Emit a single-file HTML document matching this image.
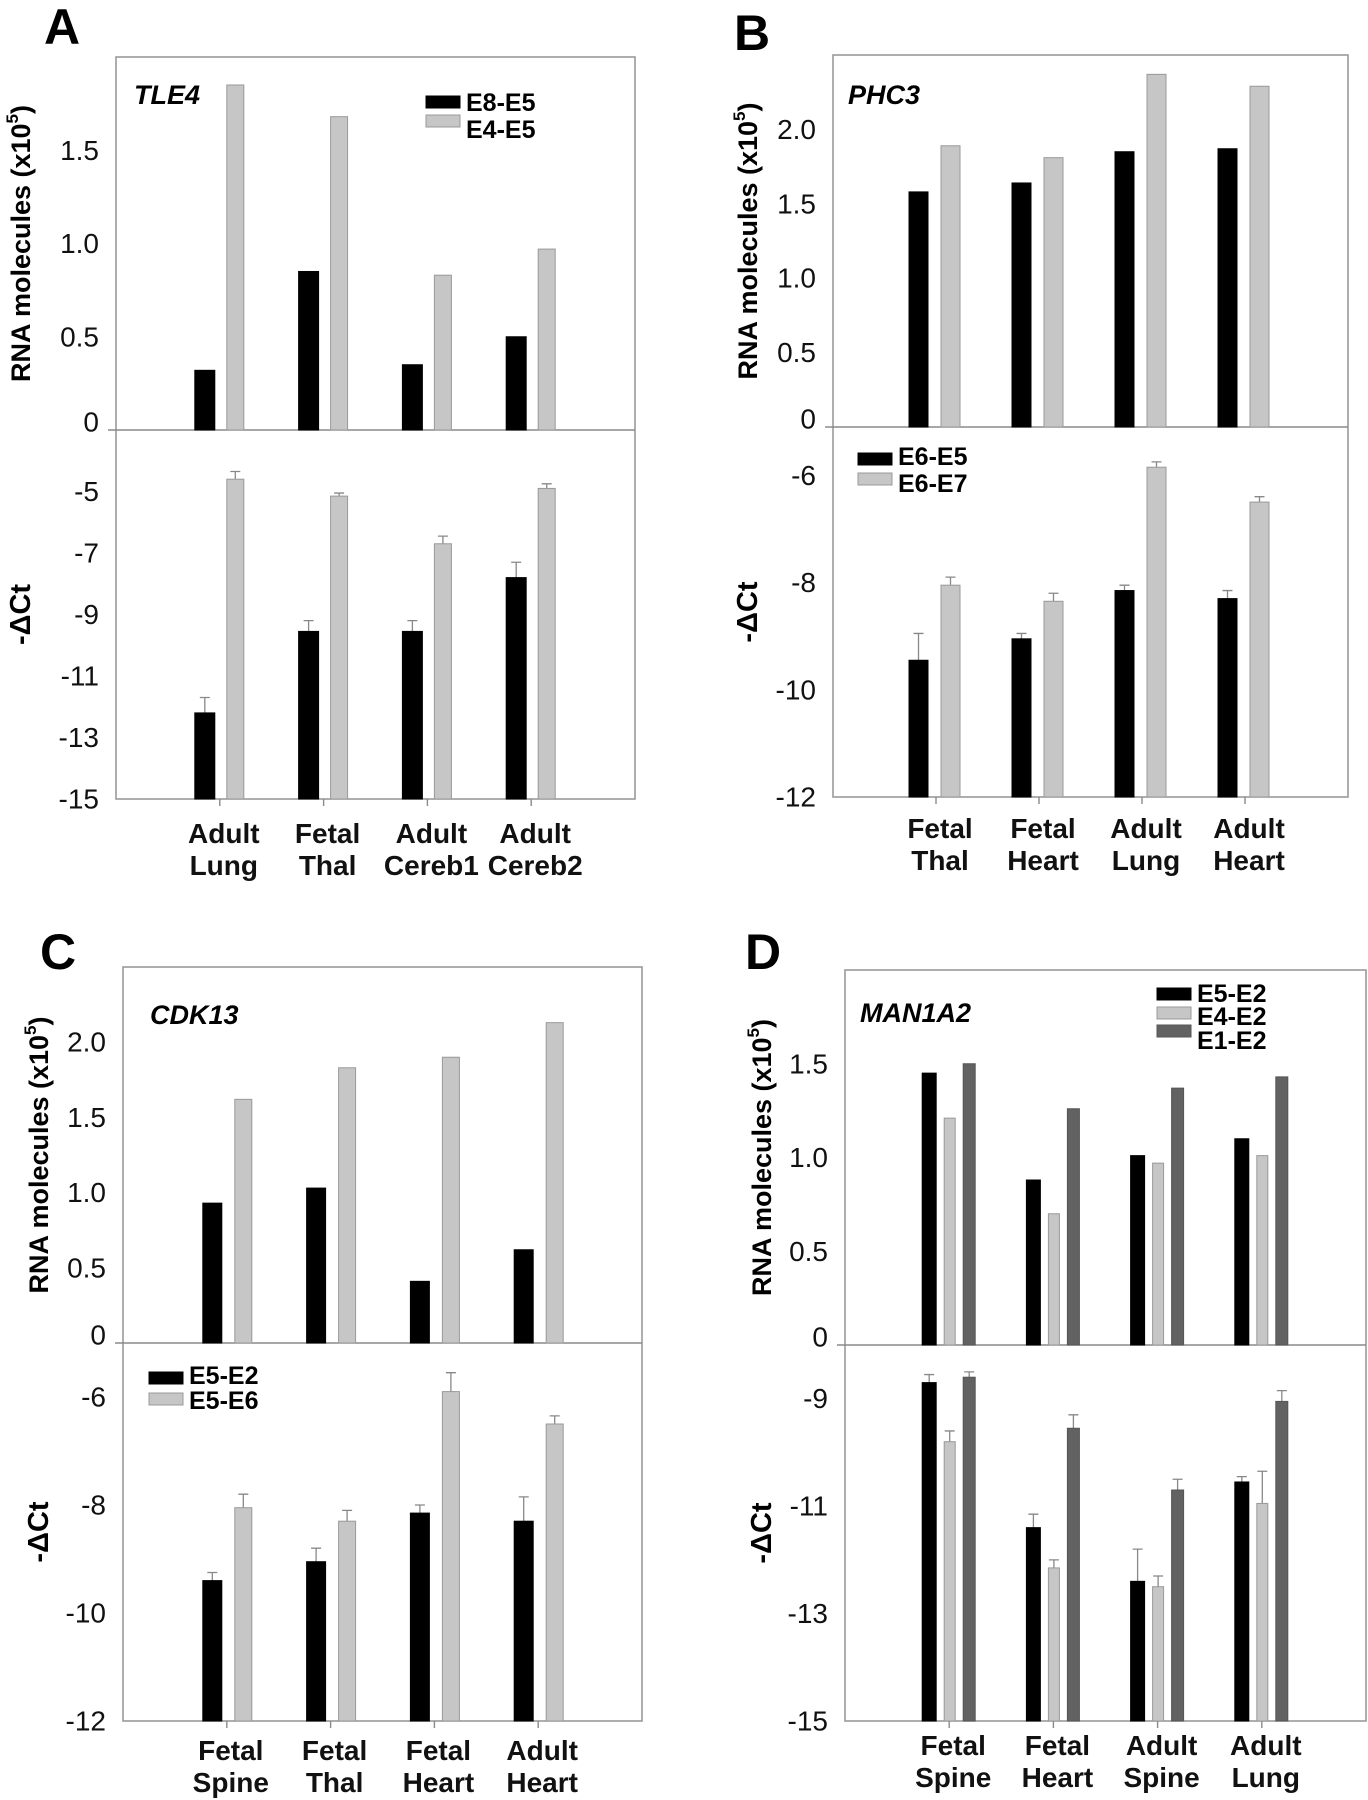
<!DOCTYPE html>
<html><head><meta charset="utf-8"><style>
html,body{margin:0;padding:0;background:#fff;}
svg{display:block;font-family:"Liberation Sans",Arial,sans-serif;}
</style></head><body>
<svg id="fig" width="1368" height="1800" viewBox="0 0 1368 1800" xmlns="http://www.w3.org/2000/svg"></svg>
<script>
// ---- Panel A: TLE4 ----
const catsA = [["Adult","Lung"],["Fetal","Thal"],["Adult","Cereb1"],["Adult","Cereb2"]];
const seriesA = ["E8-E5","E4-E5"];
const rnaA_E8E5 = [0.32,0.85,0.35,0.50];
const rnaA_E4E5 = [1.85,1.68,0.83,0.97];
const dctA_E8E5 = [-12.2,-9.55,-9.55,-7.8];
const dctA_E4E5 = [-4.6,-5.15,-6.7,-4.9];
const errA_E8E5 = [-11.7,-9.2,-9.2,-7.3];
const errA_E4E5 = [-4.35,-5.05,-6.45,-4.75];
const topTicksA = [0,0.5,1.0,1.5];
const topTickLabelsA = ["0","0.5","1.0","1.5"];
const botTicksA = [-5,-7,-9,-11,-13,-15];

// ---- Panel B: PHC3 ----
const catsB = [["Fetal","Thal"],["Fetal","Heart"],["Adult","Lung"],["Adult","Heart"]];
const seriesB = ["E6-E5","E6-E7"];
const rnaB_E6E5 = [1.58,1.64,1.85,1.87];
const rnaB_E6E7 = [1.89,1.81,2.37,2.29];
const dctB_E6E5 = [-9.45,-9.05,-8.15,-8.3];
const dctB_E6E7 = [-8.05,-8.35,-5.85,-6.5];
const errB_E6E5 = [-8.95,-8.95,-8.05,-8.15];
const errB_E6E7 = [-7.9,-8.2,-5.75,-6.4];
const topTicksB = [0,0.5,1.0,1.5,2.0];
const topTickLabelsB = ["0","0.5","1.0","1.5","2.0"];
const botTicksB = [-6,-8,-10,-12];

// ---- Panel C: CDK13 ----
const catsC = [["Fetal","Spine"],["Fetal","Thal"],["Fetal","Heart"],["Adult","Heart"]];
const seriesC = ["E5-E2","E5-E6"];
const rnaC_E5E2 = [0.93,1.03,0.41,0.62];
const rnaC_E5E6 = [1.62,1.83,1.90,2.13];
const dctC_E5E2 = [-9.4,-9.05,-8.15,-8.3];
const dctC_E5E6 = [-8.05,-8.3,-5.9,-6.5];
const errC_E5E2 = [-9.25,-8.8,-8.0,-7.85];
const errC_E5E6 = [-7.8,-8.1,-5.55,-6.35];
const topTicksC = [0,0.5,1.0,1.5,2.0];
const topTickLabelsC = ["0","0.5","1.0","1.5","2.0"];
const botTicksC = [-6,-8,-10,-12];

// ---- Panel D: MAN1A2 ----
const catsD = [["Fetal","Spine"],["Fetal","Heart"],["Adult","Spine"],["Adult","Lung"]];
const seriesD = ["E5-E2","E4-E2","E1-E2"];
const rnaD_E5E2 = [1.45,0.88,1.01,1.10];
const rnaD_E4E2 = [1.21,0.70,0.97,1.01];
const rnaD_E1E2 = [1.50,1.26,1.37,1.43];
const dctD_E5E2 = [-8.7,-11.4,-12.4,-10.55];
const dctD_E4E2 = [-9.8,-12.15,-12.5,-10.95];
const dctD_E1E2 = [-8.6,-9.55,-10.7,-9.05];
const errD_E5E2 = [-8.55,-11.15,-11.8,-10.45];
const errD_E4E2 = [-9.6,-12.0,-12.3,-10.35];
const errD_E1E2 = [-8.5,-9.3,-10.5,-8.85];
const topTicksD = [0,0.5,1.0,1.5];
const topTickLabelsD = ["0","0.5","1.0","1.5"];
const botTicksD = [-9,-11,-13,-15];

const NS = "http://www.w3.org/2000/svg";
const svg = document.getElementById("fig");
function mk(tag, attrs, parent, text){
  const e = document.createElementNS(NS, tag);
  for (const k in attrs) e.setAttribute(k, attrs[k]);
  if (text !== undefined) e.textContent = text;
  (parent || svg).appendChild(e);
  return e;
}

function drawPanel(p){
  const g = mk("g", {});
  
  
  const yTop = v => p.zero - (v / p.topMax) * (p.zero - p.top);
  const yBot = v => p.zero + ((p.botMax - v) / (p.botMax - p.botMin)) * (p.bottom - p.zero);
  const xCat = i => p.left + (i + 1) * (p.right - p.left) / 5;

  const letter = mk("text", {x:p.letterX, y:p.letterY, "font-size":50, "font-weight":"bold"}, g, p.id);
  
  

  const frame = mk("rect", {x:p.left, y:p.top, width:p.right-p.left, height:p.bottom-p.top, fill:"none", stroke:"#9a9a9a", "stroke-width":1.6}, g);
  
  
  const zl = mk("line", {x1:p.left-8, x2:p.right, y1:p.zero, y2:p.zero, stroke:"#8a8a8a", "stroke-width":1.6}, g);
  
  

  p.topTicks.forEach((v, i) => {
    const t = mk("text", {x:p.left-17, y:yTop(v)-(v===0?8:0), "font-size":28, "text-anchor":"end", "dominant-baseline":"central", fill:"#111"}, g, p.topTickLabels[i]);
    
    
  });
  p.botTicks.forEach(v => {
    const t = mk("text", {x:p.left-17, y:yBot(v), "font-size":28, "text-anchor":"end", "dominant-baseline":"central", fill:"#111"}, g, String(v));
    
    
  });

  p.cats.forEach((c, i) => {
    const x = xCat(i);
    const tk = mk("line", {x1:x, x2:x, y1:p.bottom, y2:p.bottom+7, stroke:"#8a8a8a", "stroke-width":1.4}, g);
    
    
    const t = mk("text", {x:x+4, "font-size":28, "font-weight":"bold", "text-anchor":"middle", fill:"#111"}, g);
    
    
    mk("tspan", {x:x+4, y:p.lab1}, t, c[0]);
    mk("tspan", {x:x+4, y:p.lab2}, t, c[1]);
  });

  p.series.forEach((name, s) => {
    const off = p.offsets[s];
    p.rna[s].forEach((v, i) => {
      const x = xCat(i) + off[0];
      const y = yTop(v);
      const r = mk("rect", {x:x, y:y, width:off[1]-off[0], height:p.zero-y, fill:p.fills[s], stroke:p.strokes[s], "stroke-width":1}, g);
      
      
    });
    p.dct[s].forEach((v, i) => {
      const x = xCat(i) + off[0];
      const y = yBot(v);
      const cx = x + (off[1]-off[0])/2;
      const ye = yBot(p.err[s][i]);
      const el = mk("path", {d:`M${cx},${y} V${ye} M${cx-5},${ye} H${cx+5}`, stroke:"#888", "stroke-width":1.3, fill:"none"}, g);
      
      
      const r = mk("rect", {x:x, y:y, width:off[1]-off[0], height:p.bottom-y, fill:p.fills[s], stroke:p.strokes[s], "stroke-width":1}, g);
      
      
    });
  });

  const gl = mk("text", {x:p.geneX, y:p.geneY, "font-size":27, "font-weight":"bold", "font-style":"italic", "dominant-baseline":"central"}, g, p.gene);
  
  

  p.series.forEach((name, s) => {
    const sw = mk("rect", {x:p.legX, y:p.legSw[s]-6, width:34, height:12, fill:p.fills[s], stroke:p.strokes[s], "stroke-width":1}, g);
    
    
    const lt = mk("text", {x:p.legX+40, y:p.legTx[s], "font-size":25, "font-weight":"bold", "dominant-baseline":"central"}, g, name);
    
    
  });

  const ty = (p.top + p.zero)/2;
  const t1 = mk("text", {x:p.titleX, y:ty, "font-size":27, "font-weight":"bold", "text-anchor":"middle", "dominant-baseline":"central", transform:`rotate(-90 ${p.titleX} ${ty})`}, g);
  
  
  t1.appendChild(document.createTextNode("RNA molecules (x10"));
  mk("tspan", {"font-size":17, "dy":-9}, t1, "5");
  mk("tspan", {"dy":9}, t1, ")");
  const by = (p.zero + p.bottom)/2;
  const t2 = mk("text", {x:p.titleX, y:by, "font-size":29, "font-weight":"bold", "text-anchor":"middle", "dominant-baseline":"central", transform:`rotate(-90 ${p.titleX} ${by})`}, g, "-\u0394Ct");
  
  
}

const fills2 = ["#000","#c6c6c6"], strokes2 = ["#000","#999"];
drawPanel({id:"A", gene:"TLE4", left:116, right:635, top:57, zero:430, bottom:799, topMax:2.0, botMax:-3, botMin:-15,
  cats:catsA, series:seriesA, rna:[rnaA_E8E5,rnaA_E4E5], dct:[dctA_E8E5,dctA_E4E5], err:[errA_E8E5,errA_E4E5],
  topTicks:topTicksA, topTickLabels:topTickLabelsA, botTicks:botTicksA,
  offsets:[[-25,-5],[7,24]], fills:fills2, strokes:strokes2,
  letterX:44, letterY:44, geneX:134, geneY:95, legX:426, legSw:[102,121], legTx:[103,130],
  titleX:21, lab1:843, lab2:875});
drawPanel({id:"B", gene:"PHC3", left:833, right:1348, top:55, zero:427, bottom:797, topMax:2.5, botMax:-5.1, botMin:-12,
  cats:catsB, series:seriesB, rna:[rnaB_E6E5,rnaB_E6E7], dct:[dctB_E6E5,dctB_E6E7], err:[errB_E6E5,errB_E6E7],
  topTicks:topTicksB, topTickLabels:topTickLabelsB, botTicks:botTicksB,
  offsets:[[-27,-8],[5,24]], fills:fills2, strokes:strokes2,
  letterX:734, letterY:50, geneX:848, geneY:95, legX:858, legSw:[459,479], legTx:[457,484],
  titleX:748, lab1:838, lab2:870});
drawPanel({id:"C", gene:"CDK13", left:123, right:642, top:967, zero:1343, bottom:1721, topMax:2.5, botMax:-5, botMin:-12,
  cats:catsC, series:seriesC, rna:[rnaC_E5E2,rnaC_E5E6], dct:[dctC_E5E2,dctC_E5E6], err:[errC_E5E2,errC_E5E6],
  topTicks:topTicksC, topTickLabels:topTickLabelsC, botTicks:botTicksC,
  offsets:[[-24,-5],[8,25]], fills:fills2, strokes:strokes2,
  letterX:40, letterY:969, geneX:150, geneY:1015, legX:149, legSw:[1378,1399], legTx:[1376,1401],
  titleX:39, lab1:1760, lab2:1792});
drawPanel({id:"D", gene:"MAN1A2", left:845, right:1366, top:970, zero:1345, bottom:1721, topMax:2.0, botMax:-8, botMin:-15,
  cats:catsD, series:seriesD, rna:[rnaD_E5E2,rnaD_E4E2,rnaD_E1E2], dct:[dctD_E5E2,dctD_E4E2,dctD_E1E2], err:[errD_E5E2,errD_E4E2,errD_E1E2],
  topTicks:topTicksD, topTickLabels:topTickLabelsD, botTicks:botTicksD,
  offsets:[[-27,-13],[-5,6],[14,26]], fills:["#000","#c6c6c6","#626262"], strokes:["#000","#999","#555"],
  letterX:745, letterY:969, geneX:860, geneY:1013, legX:1157, legSw:[994,1013,1031], legTx:[994,1017,1041],
  titleX:762, lab1:1755, lab2:1787});
</script>
</body></html>
